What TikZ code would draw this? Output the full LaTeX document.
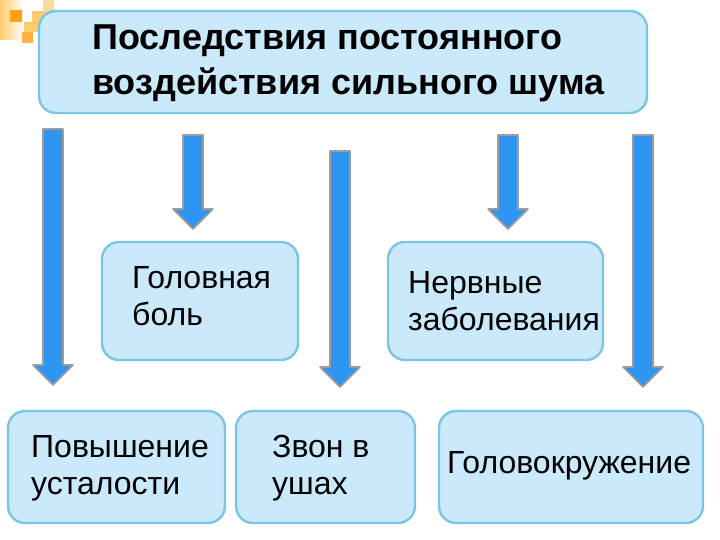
\documentclass[tikz,border=0pt]{standalone}
\usepackage{fontspec}
\setmainfont{Liberation Sans}
\definecolor{boxfill}{HTML}{CAEAFC}
\definecolor{boxline}{HTML}{7CC4E4}
\definecolor{arrfill}{HTML}{2E95F2}
\definecolor{arrline}{HTML}{A39A96}
\definecolor{sqdark}{HTML}{FF9F14}
\definecolor{sqlight}{HTML}{FFCB6E}
\tikzset{
  box/.style={draw=boxline, line width=2.4pt, fill=boxfill, rounded corners=17pt},
  lab/.style={anchor=north west, align=left, font=\fontsize{32}{37}\selectfont, inner sep=0pt},
  ttl/.style={anchor=north west, align=left, font=\fontsize{36}{45}\selectfont\bfseries, inner sep=0pt},
  arr/.style={draw=arrline, line width=1.6pt, fill=arrfill, line join=round}
}
\newcommand{\downarr}[3]{% centre x, top y, bottom y
  \draw[arr] (#1-10,#2)--(#1+10,#2)--(#1+10,#3-20)--(#1+20,#3-20)--(#1,#3)--(#1-20,#3-20)--(#1-10,#3-20)--cycle;
}
\begin{document}
\begin{tikzpicture}[x=1pt,y=-1pt]
\useasboundingbox (0,0) rectangle (720,540);
% corner
\shade[left color=sqlight, right color=white] (0,0) rectangle (24,40);
\fill[sqlight] (32,11) rectangle (54,24);
\fill[sqlight!70] (43,0) rectangle (54,12);
\fill[sqdark] (10,10) rectangle (22,22);
\fill[sqdark!80] (22,32) rectangle (33,43);
\fill[sqlight] (24,22) rectangle (38,32);
% boxes
\draw[box] (39,11) rectangle (647,113);
\draw[box] (102,242) rectangle (298,360);
\draw[box] (388,242) rectangle (603,360);
\draw[box] (8,411) rectangle (225,523);
\draw[box] (236,411) rectangle (415,523);
\draw[box] (439,411) rectangle (703,523);
% text
\node[ttl] (title) at (92,24.5) {Последствия постоянного\\воздействия сильного шума};
\node[lab] (head) at (132,266.5) {Головная\\боль};
\node[lab] (nerv) at (408,271) {Нервные\\заболевания};
\node[lab] (tired) at (31,435) {Повышение\\усталости};
\node[lab] (ring) at (272,435) {Звон в\\ушах};
\node[lab] (dizzy) at (447,451) {Головокружение};
% arrows
\foreach \xc/\ytop/\ybot in {53/129/385,193/135/229,340/151/387,508/135/229,643/135/387}
  {\downarr{\xc}{\ytop}{\ybot}}
\end{tikzpicture}
\end{document}
